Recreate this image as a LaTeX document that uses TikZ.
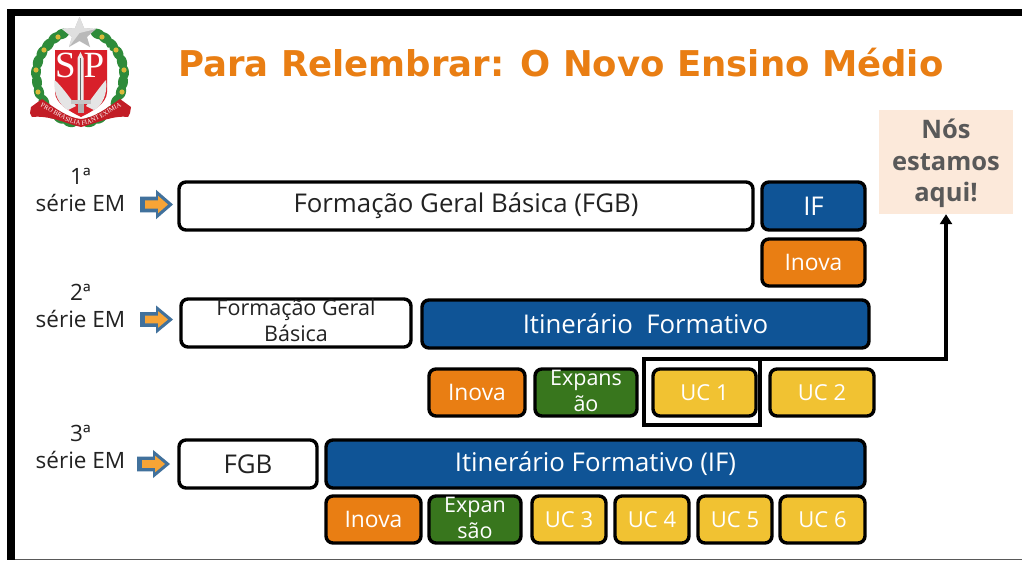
\documentclass[tikz,border=0pt]{standalone}
\usepackage{fontspec}
\setmainfont{Open Sans}
\newfontfamily\titlefont{DejaVu Sans}
\newfontfamily\emfont{Liberation Serif}
\usetikzlibrary{arrows.meta,decorations.text}
\definecolor{ifblue}{HTML}{0F5496}
\definecolor{inova}{HTML}{E97E13}
\definecolor{expgreen}{HTML}{38761D}
\definecolor{ucyellow}{HTML}{F1C232}
\definecolor{titleor}{HTML}{E97E13}
\definecolor{peach}{HTML}{FCE9DA}
\definecolor{greytxt}{HTML}{595959}
\definecolor{txt}{HTML}{222222}
\definecolor{arrowblue}{HTML}{41719C}
\definecolor{arroworange}{HTML}{F7A436}
\definecolor{leaf}{HTML}{2E8B3A}
\definecolor{shieldred}{HTML}{D8202A}
\definecolor{gold}{HTML}{D9B93A}
\tikzset{
 x=1pt,y=-1pt,
 base/.style={draw=black,line width=3.4pt,rounded corners=7pt,align=center,inner sep=0pt,outer sep=0pt},
 white box/.style={base,fill=white,text=txt},
 blue box/.style={base,fill=ifblue,text=white},
 orange box/.style={base,fill=inova,text=white},
 green box/.style={base,fill=expgreen,text=white},
 yellow box/.style={base,fill=ucyellow,text=white},
 serie/.style={align=center,text=txt,font=\fontsize{22.5}{27}\selectfont},
}
% name, style, x1, y1, x2, y2, font size, text
\newcommand{\bx}[8]{\node[#2,minimum width={(#5-#3)*1pt-2pt},minimum height={(#6-#4)*1pt-2pt},font=\fontsize{#7}{26}\selectfont] (#1) at ({(#3+#5)/2},{(#4+#6)/2}) {#8};}
% two-line text set slightly high in its box, not widening the box
\newcommand{\hightext}[1]{\raisebox{-5.5pt}[12pt][12pt]{\begin{tabular}{@{}c@{}}#1\end{tabular}}}
% block arrow at x, y centre, y scale
\newcommand{\blockarrow}[3]{\begin{scope}[shift={(#1,#2)},yscale=#3]
 \fill[arrowblue] (-15,-8.5)--(1,-8.5)--(1,-16)--(18,0)--(1,16)--(1,8.5)--(-15,8.5)--cycle;
 \fill[arroworange] (-10,-4.5)--(3,-4.5)--(3,-9.5)--(13,0)--(3,9.5)--(3,4.5)--(-10,4.5)--cycle;
\end{scope}}
\begin{document}
\begin{tikzpicture}
\useasboundingbox (0,0) rectangle (1022,560);
\fill[white] (0,0) rectangle (1022,560);
% frame
\fill[black] (7,9) rectangle (1022,16);
\fill[black] (7,9) rectangle (15,560);
\fill[black!65] (15,558.5) rectangle (1022,560);
% emblem: wreath
\foreach \s in {-1,1}{
 \begin{scope}[shift={(80,0)},xscale=\s]
  \foreach \px/\py/\r in {10/122/15,20/118/30,30/112/50,36/102/70,41/92/75,43/82/85,44/72/95,42/62/105,38/53/115,32/45/130,25/38/145,18/34/160}{
   \fill[leaf,rotate around={\r:(\px,\py)}] (\px,\py) ellipse [x radius=7.5,y radius=5];
  }
  \foreach \px/\py in {42/92,44/70,36/50,22/37}{
   \fill[gold] (\px,\py) circle (2.6);
  }
 \end{scope}
}
% shield
\fill[white] (52.5,47.5) -- (109.5,47.5) -- (109.5,92) .. controls (109.5,106) and (92,114) .. (81,120) .. controls (70,114) and (52.5,106) .. (52.5,92) -- cycle;
\fill[shieldred] (55,50) -- (107,50) -- (107,92) .. controls (107,104) and (91,112) .. (81,117) .. controls (71,112) and (55,104) .. (55,92) -- cycle;
% feathers
\fill[gray!20] (54.5,80) .. controls (60,84) and (70,98) .. (76,106) -- (68,110) .. controls (60,106) and (53,94) .. (54.5,80) -- cycle;
\fill[gray!20] (106,80) .. controls (102,84) and (92,98) .. (86,106) -- (94,110) .. controls (102,106) and (108,94) .. (106,80) -- cycle;
% sword
\fill[gray!15] (77.5,58) -- (80.5,52) -- (83.5,58) -- (83.5,100) -- (77.5,100) -- cycle;
\fill[gray!80!black] (80,58) rectangle (81,100);
\fill[gray!45] (71,100) rectangle (91,104);
\fill[gray!60] (77.5,104) rectangle (84,113);
% letters
\node[text=white,inner sep=0pt,font=\emfont\fontsize{37}{37}\selectfont] (emS) at (65.5,65) {S};
\node[text=white,inner sep=0pt,font=\emfont\fontsize{37}{37}\selectfont] (emP) at (94,65) {P};
% star
\fill[gray!55] (79.5,17) -- (84,28) -- (96,29) -- (87,37) -- (90,47) -- (79.5,41) -- (69,47) -- (72,37) -- (62,29) -- (75,28) -- cycle;
\fill[gray!25] (79.5,17) -- (84,28) -- (96,29) -- (79.5,33) -- (69,47) -- (72,37) -- (62,29) -- (75,28) -- cycle;
% ribbon
\fill[shieldred!90!black] (31,107) -- (42,99) .. controls (55,108) and (68,118) .. (81,119) .. controls (94,118) and (107,108) .. (120,99) -- (131,107) -- (130,113) -- (128,117) .. controls (112,115) and (95,124) .. (81,127) .. controls (67,124) and (50,115) .. (32,117) -- (30,113) -- cycle;
\path[postaction={decorate,decoration={text along path,text align=center,text={|\fontsize{6.5}{7}\selectfont\emfont\color{white}|PRO BRASILIA FIANT EXIMIA}}}]
   (36,105) .. controls (52,110) and (65,125) .. (81,125) .. controls (97,125) and (110,110) .. (126,105);
% title
\node[anchor=west,inner sep=0pt,text=titleor,font=\titlefont\bfseries\fontsize{35.5}{40}\selectfont] (title) at (178,62.5) {Para Relembrar: O Novo Ensino Médio};
% series labels
\node[serie] (s1) at (80.5,189.5) {1ª\\série EM};
\node[serie] (s2) at (80.5,305.5) {2ª\\série EM};
\node[serie] (s3) at (80.5,447) {3ª\\série EM};
\blockarrow{155}{204.5}{0.92}
\blockarrow{155}{319.5}{0.88}
\blockarrow{152}{464}{0.88}
% row 1
\bx{fgbA}{white box}{178}{181}{754}{231}{25.8}{Formação Geral Básica (FGB)}
\bx{ifA}{blue box}{761}{181}{866}{231}{25.8}{IF}
\bx{inA}{orange box}{761}{238}{866}{287}{22.8}{Inova}
% row 2
\bx{fgbB}{white box}{180}{298}{412}{348}{21.5}{\hightext{Formação Geral\\Básica}}
\bx{ifB}{blue box}{421}{299}{870}{349}{25.8}{Itinerário\ \ Formativo}
\bx{inB}{orange box}{428}{368}{526}{417}{22.8}{Inova}
\bx{exB}{green box}{534}{368}{638}{417}{21.5}{\hightext{Expans\\ão}}
\bx{ucA}{yellow box}{652}{368}{757}{417}{22}{UC 1}
\bx{ucB}{yellow box}{769}{368}{875}{417}{22}{UC 2}
% row 3
\bx{fgbC}{white box}{178}{439}{318}{489}{25.8}{FGB}
\bx{ifC}{blue box}{325}{439}{866}{489}{25.8}{Itinerário Formativo (IF)}
\bx{inC}{orange box}{325}{495}{422}{544}{22.8}{Inova}
\bx{exC}{green box}{428}{495}{522}{544}{21.5}{\hightext{Expan\\são}}
\bx{ucC}{yellow box}{531}{495}{607}{544}{22}{UC 3}
\bx{ucD}{yellow box}{614}{495}{690}{544}{22}{UC 4}
\bx{ucE}{yellow box}{697}{495}{773}{544}{22}{UC 5}
\bx{ucF}{yellow box}{779}{495}{866}{544}{22}{UC 6}
% callout
\node[fill=peach,text=greytxt,inner sep=0pt,minimum width=134pt,minimum height=104pt,font=\bfseries\fontsize{25.5}{31.5}\selectfont] (nos) at (946,162) {\vbox{\kern4pt\hbox{\begin{tabular}{@{}c@{}}Nós\\estamos\\aqui!\end{tabular}}}};
\node[draw=black,line width=4pt,minimum width=116pt,minimum height=66pt,inner sep=0pt,outer sep=0pt] (frameuc) at (702,392) {};
\draw[black,line width=3.2pt,-{Triangle[length=10pt,width=12pt]}] (frameuc.north east) -| (nos.south);
\end{tikzpicture}
\end{document}
